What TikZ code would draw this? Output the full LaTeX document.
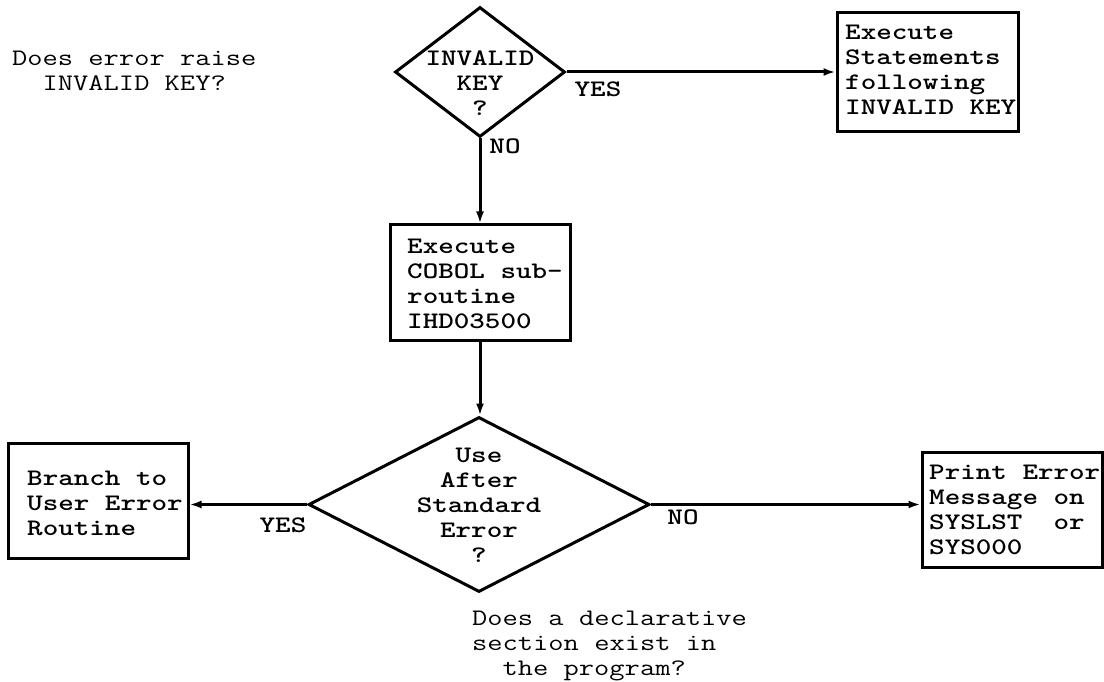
\documentclass[tikz,border=0pt]{standalone}
\usepackage{graphicx}
\usetikzlibrary{shapes.geometric,arrows.meta}
\newcommand\txtL[1]{\scalebox{1.25}[1]{\begin{tabular}{@{}l@{}}#1\end{tabular}}}
\newcommand\txtC[1]{\scalebox{1.25}[1]{\begin{tabular}{@{}c@{}}#1\end{tabular}}}
\tikzset{
  boxtxt/.style={inner sep=0pt, font=\fontsize{23.7}{25}\selectfont\ttfamily\bfseries},
  notetxt/.style={inner sep=0pt, font=\fontsize{23.7}{25}\selectfont\ttfamily},
  stepbox/.style={draw, rectangle, line width=3pt, inner sep=0pt},
  dia/.style={draw, diamond, line width=3pt, inner sep=0pt},
  arr/.style={line width=3pt, -{Latex[length=12pt,width=8pt]}}
}
\begin{document}
\begin{tikzpicture}[x=1pt,y=-1pt]
\useasboundingbox (0,0) rectangle (1104,682);
% shapes
\node[dia, minimum width=170pt, minimum height=130pt] (d1) at (480,72) {};
\node[stepbox, minimum width=181pt, minimum height=119pt] (e1) at (927.5,72.5) {};
\node[stepbox, minimum width=180pt, minimum height=115pt] (b2) at (480,282.5) {};
\node[dia, minimum width=341pt, minimum height=175pt] (d2) at (479,504.5) {};
\node[stepbox, minimum width=180pt, minimum height=115pt] (lb) at (98,500.5) {};
\node[stepbox, minimum width=180pt, minimum height=115pt] (rb) at (1012,509.5) {};
% texts
\node[boxtxt] (d1t) at (480,86) {\txtC{INVALID\\KEY\\?}};
\node[boxtxt, anchor=west] (e1t) at (845,72.5) {\txtL{Execute\\Statements\\following\\INVALID KEY}};
\node[boxtxt, anchor=west] (b2t) at (407,285.5) {\txtL{Execute\\COBOL sub-\\routine\\IHD03500}};
\node[boxtxt] (d2t) at (479,507) {\txtC{Use\\After\\Standard\\Error\\?}};
\node[boxtxt, anchor=west] (lbt) at (27,505) {\txtL{Branch to\\User Error\\Routine}};
\node[boxtxt, anchor=west] (rbt) at (929,511.5) {\txtL{Print Error\\Message on\\SYSLST\ \ or\\SYS000}};
\node[notetxt, anchor=west] (n1) at (12,73.5) {\txtL{Does error raise\\\hphantom{xx}INVALID KEY?}};
\node[notetxt, anchor=west] (n2) at (472,645) {\txtL{Does a declarative\\section exist in\\\hphantom{xx}the program?}};
% labels
\node[boxtxt] (yes1) at (598,92) {\txtC{YES}};
\node[boxtxt] (no1) at (505,149) {\txtC{NO}};
\node[boxtxt] (yes2) at (283,527) {\txtC{YES}};
\node[boxtxt] (no2) at (683,519) {\txtC{NO}};
% connectors
\draw[arr] (d1.east) -- (d1.east -| e1.west);
\draw[arr] (d1.south) -- (b2.north);
\draw[arr] (b2.south) -- (d2.north -| b2.south);
\draw[arr] (d2.west) -- (d2.west -| lb.east);
\draw[arr] (d2.east) -- (d2.east -| rb.west);
\end{tikzpicture}
\end{document}
